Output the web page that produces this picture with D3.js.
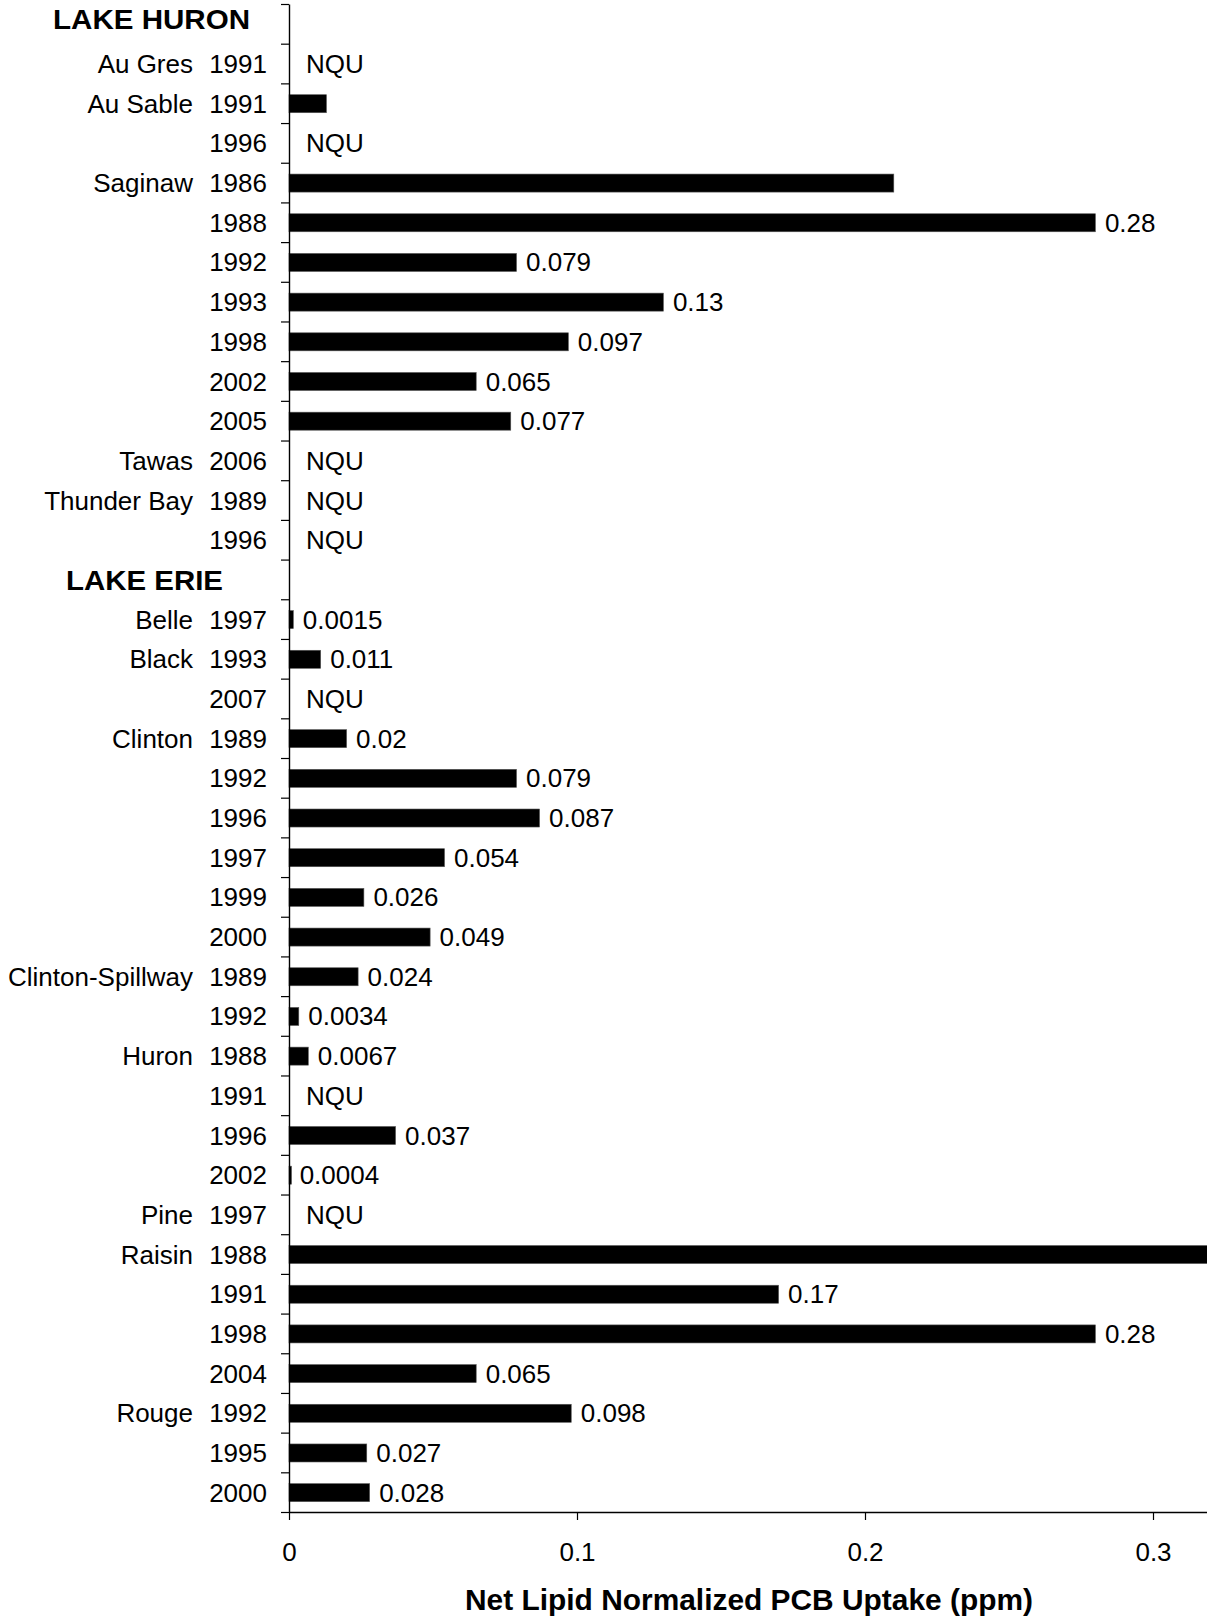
<!DOCTYPE html>
<html>
<head>
<meta charset="utf-8">
<script src="https://cdn.jsdelivr.net/npm/d3@7"></script>
<style>
  html, body { margin: 0; padding: 0; background: #fff; }
  svg { display: block; }
  text { font-family: "Liberation Sans", Arial, sans-serif; fill: #000; }
</style>
</head>
<body>
<script>
// ---- data ----
const lakeHeaders = ["LAKE HURON", "LAKE ERIE"];
const rowSites = ["LAKE HURON","Au Gres","Au Sable","","Saginaw","","","","","","","Tawas","Thunder Bay","",
  "LAKE ERIE","Belle","Black","","Clinton","","","","","","Clinton-Spillway","","Huron","","","","Pine","Raisin","","","","Rouge","",""];
const rowYears = ["","1991","1991","1996","1986","1988","1992","1993","1998","2002","2005","2006","1989","1996",
  "","1997","1993","2007","1989","1992","1996","1997","1999","2000","1989","1992","1988","1991","1996","2002","1997","1988","1991","1998","2004","1992","1995","2000"];
const uptakeValues = [null,null,0.013,null,0.21,0.28,0.079,0.13,0.097,0.065,0.077,null,null,null,
  null,0.0015,0.011,null,0.02,0.079,0.087,0.054,0.026,0.049,0.024,0.0034,0.0067,null,0.037,0.0004,null,0.35,0.17,0.28,0.065,0.098,0.027,0.028];
const valueLabels = ["","NQU","","NQU","","0.28","0.079","0.13","0.097","0.065","0.077","NQU","NQU","NQU",
  "","0.0015","0.011","NQU","0.02","0.079","0.087","0.054","0.026","0.049","0.024","0.0034","0.0067","NQU","0.037","0.0004","NQU","","0.17","0.28","0.065","0.098","0.027","0.028"];
const xTicks = [0, 0.1, 0.2, 0.3];
const xTickLabels = ["0", "0.1", "0.2", "0.3"];
const xTitle = "Net Lipid Normalized PCB Uptake (ppm)";

// ---- layout ----
const W = 1207, H = 1621;
const plotLeft = 289, plotTop = 4, plotBottom = 1512;
const pxPerUnit = 2880;
const FS = 26;

const svg = d3.select("body").append("svg").attr("width", W).attr("height", H);
svg.append("rect").attr("width", W).attr("height", H).attr("fill", "#fff");

const rows = rowYears.map((yr, i) => ({
  i, id: String(i), site: rowSites[i], year: yr, value: uptakeValues[i], label: valueLabels[i],
  header: lakeHeaders.includes(rowSites[i])
}));

const x = d3.scaleLinear().domain([0, 0.4]).range([plotLeft, plotLeft + 0.4 * pxPerUnit]);
const y = d3.scaleBand().domain(rows.map(r => r.id)).range([plotTop, plotBottom])
  .paddingInner(0.546).paddingOuter(0.273);
const center = r => y(r.id) + y.bandwidth() / 2;
const boundary = d3.scaleLinear().domain([0, rows.length]).range([plotTop, plotBottom]);

// bars
svg.append("g").selectAll("rect").data(rows.filter(r => r.value != null)).join("rect")
  .attr("x", x(0))
  .attr("y", r => y(r.id) + 0.5)
  .attr("width", r => Math.max(2.5, x(r.value) - x(0)))
  .attr("height", y.bandwidth())
  .attr("fill", "#000")
  .attr("stroke", "#555").attr("stroke-width", 0.6);

// y axis (ticks at band boundaries)
const yAxis = d3.axisLeft(boundary).tickValues(d3.range(0, rows.length + 1)).tickFormat("").tickSize(8).tickSizeOuter(0);
const gy = svg.append("g").attr("transform", `translate(${plotLeft},0)`).call(yAxis);
gy.select(".domain").attr("stroke", "#000").attr("stroke-width", 1.4);
gy.selectAll(".tick line").attr("stroke", "#000").attr("stroke-width", 1.2);

// x axis
const xAxis = d3.axisBottom(x).tickValues(xTicks).tickFormat((d, i) => xTickLabels[i]).tickSize(8).tickSizeOuter(0);
const gx = svg.append("g").attr("transform", `translate(0,${plotBottom})`).call(xAxis);
gx.select(".domain").attr("stroke", "#000").attr("stroke-width", 1.4);
gx.selectAll(".tick line").attr("stroke", "#000").attr("stroke-width", 1.2);
gx.selectAll(".tick text").attr("font-size", FS).attr("fill", "#000")
  .attr("font-family", '"Liberation Sans", Arial, sans-serif')
  .attr("dy", null).attr("y", 49);

// row labels: site names and years
const lab = svg.append("g");
lab.selectAll("text.site").data(rows.filter(r => r.site && !r.header)).join("text")
  .attr("class", "site").attr("x", 193).attr("y", r => center(r) + 9.5)
  .attr("text-anchor", "end").attr("font-size", FS).text(r => r.site);
lab.selectAll("text.year").data(rows.filter(r => r.year)).join("text")
  .attr("class", "year").attr("x", 267).attr("y", r => center(r) + 9.5)
  .attr("text-anchor", "end").attr("font-size", FS).text(r => r.year);

// lake headers
const headerStart = { "LAKE HURON": 53, "LAKE ERIE": 66 };
const headerWidth = { "LAKE HURON": 197, "LAKE ERIE": 157 };
lab.selectAll("text.hdr").data(rows.filter(r => r.header)).join("text")
  .attr("class", "hdr").attr("x", r => headerStart[r.site])
  .attr("y", r => r.i === 0 ? center(r) + 5.5 : center(r) + 11)
  .attr("font-size", 28).attr("font-weight", "bold")
  .attr("textLength", r => headerWidth[r.site]).attr("lengthAdjust", "spacingAndGlyphs")
  .text(r => r.site);

// value labels
svg.append("g").selectAll("text").data(rows.filter(r => r.label)).join("text")
  .attr("x", r => r.value == null ? x(0) + 17 : x(r.value) + 9.5)
  .attr("y", r => center(r) + 9.5)
  .attr("font-size", FS).text(r => r.label);

// axis title
svg.append("text").attr("x", 749).attr("y", 1610).attr("text-anchor", "middle")
  .attr("font-size", 30).attr("font-weight", "bold")
  .attr("textLength", 568).attr("lengthAdjust", "spacingAndGlyphs")
  .text(xTitle);
</script>
</body>
</html>
